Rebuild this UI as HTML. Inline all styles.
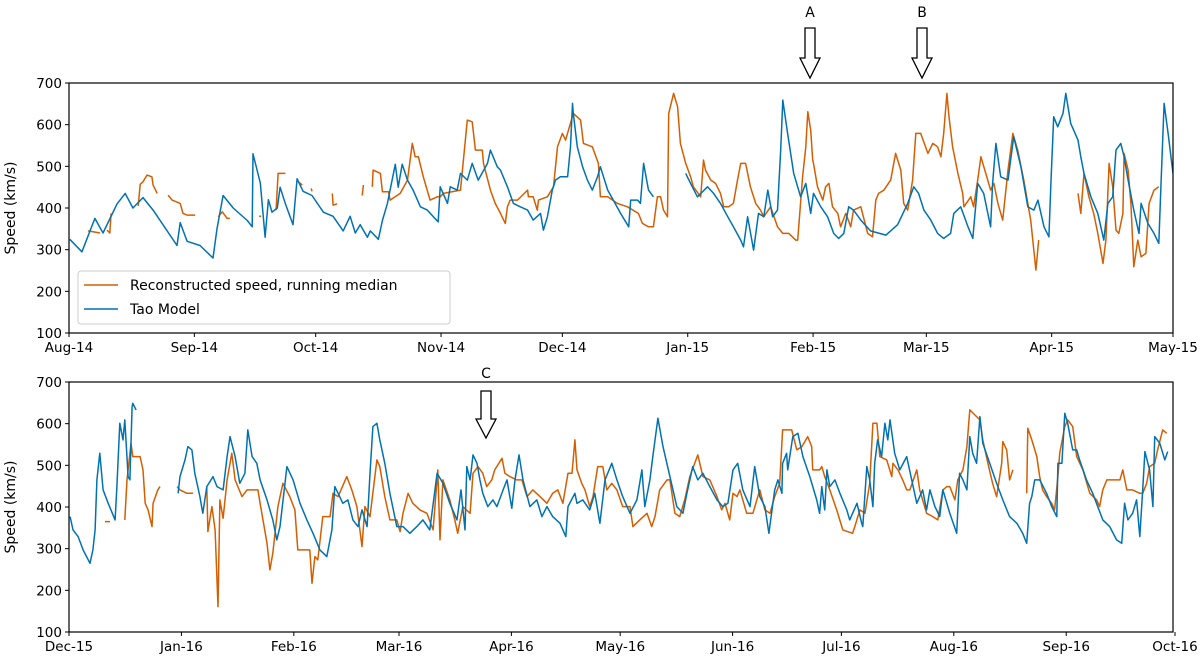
<!DOCTYPE html>
<html><head><meta charset="utf-8"><style>
body{margin:0;background:#fff;}
svg{display:block;font-family:"DejaVu Sans","Liberation Sans",sans-serif;}
</style></head><body>
<svg id="chart" width="1200" height="663" viewBox="0 0 1200 663" xmlns="http://www.w3.org/2000/svg">
<g id="top"></g>
<g id="bot"></g>
<g>
<text x="810" y="17" text-anchor="middle" font-size="14">A</text>
<path d="M805,28 H815 V58 H820 L810,78 L800,58 H805 Z" fill="#fff" stroke="#000" stroke-width="1.3"/>
</g>
<g>
<text x="922" y="17" text-anchor="middle" font-size="14">B</text>
<path d="M917,28 H927 V58 H932 L922,78 L912,58 H917 Z" fill="#fff" stroke="#000" stroke-width="1.3"/>
</g>
<g>
<text x="486" y="378" text-anchor="middle" font-size="14">C</text>
<path d="M481,391 H491 V419 H496 L486,438 L476,419 H481 Z" fill="#fff" stroke="#000" stroke-width="1.3"/>
</g>
</svg>
<script>
// ---- data: days since start of panel, speed (km/s); null = gap ----
const topTaoDays=[0.2,3.2,6.4,8.4,11.9,13.9,15.8,18.3,20.8,26.7,27.5,29.2,32.4,35.6,36.6,38.1,40.6,44.1,45.3,45.5,47.3,48.5,49.3,50.2,51.5,52.2,53.5,55.4,56.4,57.9,60.1,62.9,65.3,67.8,69.5,70.8,72.0,73.8,74.5,76.5,77.5,78.7,80.7,81.4,82.4,83.7,85.1,86.9,88.6,90.1,91.3,91.8,93.6,94.3,96.0,96.8,98.5,99.7,101.2,103.5,104.2,105.9,106.7,108.4,109.9,111.6,113.4,114.8,116.6,117.3,118.3,119.5,120.3,121.5,123.3,124.0,124.5,124.7,125.7,127.0,128.2,129.4,130.7,131.4,133.2,134.6,136.4,138.4,138.9,140.6,141.3,142.1,143.3,144.5,null,152.5,153.7,155.4,157.9,159.4,161.1,162.9,164.3,166.1,166.8,167.8,169.3,170.5,171.8,172.8,174.0,175.2,176.0,176.5,177.7,179.2,180.9,182.2,183.4,184.1,185.9,187.6,189.1,190.3,191.6,192.8,194.0,195.8,198.2,202.0,204.9,207.4,208.9,210.1,211.4,213.1,214.8,216.3,218.0,218.8,220.5,222.3,223.5,224.7,226.2,227.9,228.4,229.2,230.4,232.2,233.6,235.4,237.1,238.6,239.6,241.1,242.3,242.8,243.5,244.5,245.8,246.5,247.7,249.5,250.2,251.0,252.7,254.4,255.9,256.9,258.1,258.9,260.1,260.9,261.9,263.3,264.6,265.1,266.8,268.3,269.5,270.0,270.8,271.8,273.0];
const topTaoSpeed=[325,295,375,340,410,435,400,425,395,310,365,320,310,280,350,430,400,370,355,530,460,330,420,390,400,450,410,360,470,440,430,390,380,345,380,340,360,330,345,325,370,410,505,450,505,467,443,403,395,379,367,451,411,451,443,483,467,507,467,507,539,499,491,451,411,403,395,371,387,347,379,443,467,475,475,547,651,627,547,499,467,443,475,499,443,419,387,355,419,419,411,507,443,427,null,483,459,427,451,435,411,379,355,323,307,379,299,387,379,443,379,395,539,659,579,483,427,459,387,435,403,379,339,327,339,403,395,371,345,335,360,411,451,435,395,371,339,327,339,387,403,355,327,459,435,355,459,555,475,467,571,499,403,395,419,355,331,459,619,595,627,675,603,563,523,483,427,387,323,411,427,539,555,523,467,395,339,411,363,339,315,451,651,579,483];
const topReconDays=[4.7,7.7,null,9.4,10.1,10.4,null,17.1,17.6,18.3,19.3,20.5,20.8,21.8,null,24.5,25.5,27.5,28.2,29.2,31.2,null,36.9,37.9,39.1,39.8,null,47.0,47.5,null,51.2,51.7,53.5,null,56.7,57.7,null,59.9,60.1,null,65.1,65.3,66.3,null,72.5,72.8,null,75.0,75.2,77.0,77.5,79.0,79.4,81.9,83.7,84.9,85.6,86.4,87.6,89.3,91.1,91.8,92.6,96.8,98.5,99.7,100.5,102.2,102.5,104.2,105.4,106.7,107.9,108.4,109.1,110.9,113.4,113.6,114.8,115.8,116.1,118.3,119.8,120.8,122.0,122.8,124.7,126.5,127.2,129.4,130.9,131.4,133.2,135.6,138.1,140.8,141.8,143.3,144.5,145.5,146.3,147.0,148.0,148.3,149.5,150.5,151.2,152.5,153.7,154.4,156.2,156.9,157.4,158.7,159.9,161.1,161.9,163.1,164.3,165.3,166.1,167.3,168.5,169.8,171.0,171.8,173.5,175.2,176.5,178.0,179.7,180.2,181.4,182.2,182.7,183.4,183.9,184.1,185.1,186.4,187.1,187.9,188.8,190.1,190.8,192.1,193.3,194.0,195.8,197.5,198.7,199.5,200.2,201.5,203.2,204.4,205.7,206.4,207.4,208.6,209.4,210.6,212.4,213.6,214.8,215.6,216.3,217.1,217.6,218.5,219.8,221.0,221.3,223.0,223.7,224.7,225.5,226.7,227.9,228.7,229.7,230.9,232.2,233.4,234.6,236.1,237.8,239.1,239.8,null,249.5,250.2,251.0,252.2,253.4,254.4,255.7,256.4,257.2,258.1,258.9,259.6,260.6,260.9,261.9,262.6,263.3,264.3,265.1,266.3,267.1,268.3,269.5];
const topReconSpeed=[345,340,null,347,340,387,null,405,457,463,479,475,455,435,null,431,419,411,387,383,383,null,379,391,375,375,null,380,380,null,395,483,483,null,463,455,null,447,440,null,435,407,410,null,430,455,null,451,491,483,439,439,419,435,467,555,523,523,475,419,427,427,435,443,611,607,539,539,507,443,411,387,363,403,419,419,443,427,427,395,419,427,451,547,579,563,627,611,555,547,507,427,427,411,403,387,363,355,355,427,427,395,379,627,675,643,555,507,475,451,427,515,491,467,459,435,403,403,411,467,507,507,451,411,395,379,403,355,339,339,323,323,475,547,631,587,515,507,451,419,451,459,403,387,355,387,355,395,403,339,331,419,435,443,467,531,491,411,395,467,579,579,531,555,547,523,579,675,619,547,483,435,403,427,403,467,523,483,443,459,411,371,491,579,539,467,371,251,323,null,435,387,483,427,387,339,267,323,507,451,347,339,387,531,491,411,259,323,283,291,411,443,451];
const botTaoDays=[0.3,1.1,2.5,3.9,5.8,6.6,7.2,7.7,8.5,9.4,10.8,12.7,13.2,14.0,14.9,15.4,16.3,16.8,17.4,17.6,18.5,null,30.1,30.6,32.0,32.8,33.9,34.7,36.1,36.9,38.0,39.7,40.8,42.5,43.6,44.4,45.8,47.1,48.5,49.3,50.5,51.8,52.7,54.6,56.2,57.3,58.2,60.1,61.8,63.7,65.6,67.3,69.2,71.1,72.5,73.3,74.2,75.5,76.9,78.3,79.7,80.8,82.2,83.0,83.8,84.9,85.7,87.1,88.5,90.4,92.1,94.0,95.9,97.6,99.5,101.5,103.1,105.0,107.0,108.1,109.2,109.7,110.6,111.4,112.5,113.3,114.1,115.5,116.9,118.0,119.7,120.8,122.1,123.0,124.1,125.2,127.1,129.0,130.4,131.8,133.4,135.4,137.0,137.6,139.5,140.1,141.7,143.6,145.0,146.4,147.8,149.7,151.1,152.7,154.7,156.6,158.0,158.8,160.2,161.0,162.4,163.8,165.7,167.6,169.3,170.4,172.0,173.4,174.8,176.7,178.7,180.3,181.7,183.1,184.4,185.8,187.8,189.1,190.5,191.9,193.0,194.6,195.5,196.6,196.8,197.9,198.2,199.6,201.0,202.4,204.3,206.2,207.0,207.6,208.4,209.0,209.8,211.2,212.6,214.5,215.3,216.1,217.3,218.6,218.9,220.0,220.8,221.7,222.2,223.0,224.1,225.0,225.8,226.4,227.7,229.1,231.0,232.4,233.8,235.4,236.5,237.4,238.8,240.1,241.0,242.9,244.8,245.6,246.5,247.6,248.4,249.2,250.3,251.2,252.0,253.9,255.8,257.5,259.4,261.4,263.0,264.1,264.9,265.5,266.3,267.7,269.6,271.0,272.4,272.7,273.8,274.6,275.4,276.8,277.9,278.7,280.6,282.3,285.1,287.0,288.9,290.3,291.1,292.0,293.3,294.4,295.3,296.1,296.7,298.0,298.9,299.4,300.8,302.2,303.0];
const botTaoSpeed=[377,345,329,297,265,297,345,465,529,441,409,369,449,601,561,609,473,465,641,649,633,null,433,473,513,545,537,481,425,385,449,473,449,441,521,569,521,457,481,585,521,505,465,417,369,321,353,497,465,409,369,337,297,281,345,449,433,409,417,369,353,393,353,481,593,601,561,505,433,353,353,337,353,369,345,481,457,409,369,441,345,497,465,525,505,465,433,401,417,401,441,465,397,465,525,465,401,417,377,401,377,361,329,401,433,409,417,393,433,361,465,505,465,425,385,417,489,401,465,521,613,545,473,401,385,433,497,465,481,449,417,401,409,489,505,441,401,497,425,401,337,441,465,433,505,529,489,569,577,521,473,417,385,449,393,489,449,465,433,393,369,385,409,361,353,497,465,401,505,561,521,601,561,609,529,489,521,465,409,441,393,441,401,377,441,385,337,481,465,441,569,529,505,617,553,505,457,417,377,361,337,313,409,425,465,465,433,401,377,505,505,625,601,537,537,513,465,433,369,353,321,313,409,369,385,417,329,441,533,489,401,569,553,513,533];
const botReconDays=[9.9,11.3,null,15.4,16.0,17.1,17.6,19.6,20.4,21.0,21.8,22.9,23.2,24.5,25.1,null,29.8,30.6,32.5,34.2,null,38.0,38.3,39.4,40.3,41.1,41.6,42.5,43.6,44.9,45.8,47.7,49.1,50.7,52.1,52.7,54.6,55.4,56.2,57.6,59.0,60.9,62.3,63.1,64.5,66.4,67.0,67.8,68.6,70.0,72.0,72.8,74.2,76.6,78.0,79.4,80.8,81.6,83.0,84.9,85.7,87.1,88.5,90.4,91.3,92.1,93.5,94.8,96.8,98.7,100.4,101.7,102.3,103.1,105.0,106.4,107.2,108.6,110.6,111.4,112.8,114.1,115.2,116.6,117.4,119.4,120.2,121.6,123.5,124.9,126.3,127.9,129.9,131.8,133.4,134.8,136.2,137.6,138.7,139.5,140.1,141.4,142.3,143.6,144.5,145.8,147.2,148.3,149.7,151.1,152.7,154.7,155.5,157.4,159.4,160.7,161.6,162.9,164.9,165.7,167.1,168.4,169.8,171.2,173.4,174.8,176.7,178.7,180.0,180.9,182.2,183.1,184.2,185.0,186.9,188.6,190.5,191.9,193.3,194.6,196.0,196.8,198.2,199.3,200.7,202.1,203.7,204.8,205.1,207.0,207.6,208.4,209.8,211.7,213.4,216.1,216.7,218.1,219.5,220.8,221.7,222.8,223.6,225.5,226.9,227.2,228.6,229.9,231.0,231.9,233.8,234.6,236.5,238.2,239.6,241.0,242.1,242.9,244.3,245.1,246.5,247.6,248.4,250.3,251.2,252.0,253.4,254.7,255.8,257.2,257.5,258.6,259.4,260.3,null,264.1,264.4,265.5,266.9,267.7,268.5,269.6,271.0,271.8,272.7,273.2,274.6,275.4,276.8,277.9,279.6,281.5,283.4,284.2,285.1,286.2,287.8,289.8,290.6,291.7,293.3,295.3,296.1,297.2,298.0,299.4,300.2,301.6,302.7];
const botReconSpeed=[365,365,null,369,465,553,521,521,489,409,393,353,409,441,449,null,449,441,433,433,null,449,341,401,345,161,417,373,465,529,465,425,441,441,441,409,313,249,289,401,457,425,393,297,297,297,217,281,273,377,377,433,425,473,441,401,305,401,377,513,497,425,369,369,341,385,433,409,393,385,345,489,321,465,417,369,337,401,385,481,497,481,449,465,489,517,481,473,465,465,425,441,425,409,433,441,409,481,481,561,489,457,441,401,425,497,497,441,457,441,401,401,353,369,385,353,377,441,465,465,385,377,417,473,525,473,465,425,393,409,369,433,425,441,385,385,441,393,385,425,457,585,585,585,537,545,569,545,489,489,497,473,441,393,345,337,353,393,385,457,601,601,521,513,473,505,489,465,441,441,489,441,385,377,369,441,449,449,417,465,489,545,633,617,609,561,505,457,425,505,557,537,465,489,null,433,589,561,521,473,441,425,409,393,473,529,593,609,593,521,489,433,417,401,441,465,465,465,489,441,441,433,433,457,497,505,537,585,577];
const yTicks=[100,200,300,400,500,600,700];
const topMonths=["Aug-14","Sep-14","Oct-14","Nov-14","Dec-14","Jan-15","Feb-15","Mar-15","Apr-15","May-15"];
const topMonthDays=[0,31,61,92,122,153,184,212,243,273];
const botMonths=["Dec-15","Jan-16","Feb-16","Mar-16","Apr-16","May-16","Jun-16","Jul-16","Aug-16","Sep-16","Oct-16"];
const botMonthDays=[0,31,62,91,122,152,183,213,244,275,305];

const NS="http://www.w3.org/2000/svg";
const ORANGE="#d55e00", BLUE="#0072b2";
const L=69,R=1173;
function mk(tag,attrs,parent){const e=document.createElementNS(NS,tag);for(const k in attrs)e.setAttribute(k,attrs[k]);parent.appendChild(e);return e;}

function panel(g,top,bottom,pxPerDay,days1,vals1,days2,vals2,months,monthDays,prefix){
  const xs=d=>L+d*pxPerDay;
  const ys=v=>bottom-(v-100)*(bottom-top)/600;
  const clipId=prefix+"-clip";
  const defs=mk("defs",{},g);
  const cp=mk("clipPath",{id:clipId},defs);
  mk("rect",{x:L,y:top,width:R-L,height:bottom-top},cp);
  function path(days,vals,color,name){
    let d="",pen=false;
    for(let i=0;i<days.length;i++){
      if(days[i]===null||vals[i]===null){pen=false;continue;}
      d+=(pen?"L":"M")+xs(days[i]).toFixed(1)+","+ys(vals[i]).toFixed(1);
      pen=true;
    }
    const p=mk("path",{d:d,fill:"none",stroke:color,"stroke-width":1.5,"stroke-linejoin":"round","clip-path":"url(#"+clipId+")"},g);
    
    
  }
  path(days1,vals1,ORANGE,prefix+"-reconstructed-line");
  path(days2,vals2,BLUE,prefix+"-tao-line");
  const frame=mk("rect",{x:L,y:top,width:R-L,height:bottom-top,fill:"none",stroke:"#000","stroke-width":1.2},g);
  
  
  yTicks.forEach(v=>{
    const y=ys(v);
    mk("line",{x1:L-4,x2:L,y1:y,y2:y,stroke:"#000","stroke-width":1},g);
    const t=mk("text",{x:L-7,y:y+5,"text-anchor":"end","font-size":13.5},g);
    t.textContent=v;
    
    
  });
  months.forEach((m,i)=>{
    const x=xs(monthDays[i]);
    mk("line",{x1:x,x2:x,y1:bottom,y2:bottom+4,stroke:"#000","stroke-width":1},g);
    const t=mk("text",{x:x,y:bottom+19,"text-anchor":"middle","font-size":13.5},g);
    t.textContent=m;
    
    
  });
  const yl=mk("text",{x:0,y:0,"text-anchor":"middle","font-size":14,transform:"translate(15,"+((top+bottom)/2)+") rotate(-90)"},g);
  yl.textContent="Speed (km/s)";
  
  
}
const gt=document.getElementById("top"), gb=document.getElementById("bot");
panel(gt,83,333,1104/273,topReconDays,topReconSpeed,topTaoDays,topTaoSpeed,topMonths,topMonthDays,"top");
panel(gb,382,632,1106/305,botReconDays,botReconSpeed,botTaoDays,botTaoSpeed,botMonths,botMonthDays,"bottom");

// legend
const lg=mk("g",{},gt);


mk("rect",{x:78,y:271,width:372,height:53,rx:3,fill:"#fff","fill-opacity":0.85,stroke:"#ccc","stroke-width":1},lg);
mk("line",{x1:84,x2:118,y1:285,y2:285,stroke:ORANGE,"stroke-width":1.5},lg);
mk("line",{x1:84,x2:118,y1:309,y2:309,stroke:BLUE,"stroke-width":1.5},lg);
const t1=mk("text",{x:130,y:290,"font-size":14},lg);
t1.textContent="Reconstructed speed, running median";


const t2=mk("text",{x:130,y:314,"font-size":14},lg);
t2.textContent="Tao Model";


</script>
</body></html>
